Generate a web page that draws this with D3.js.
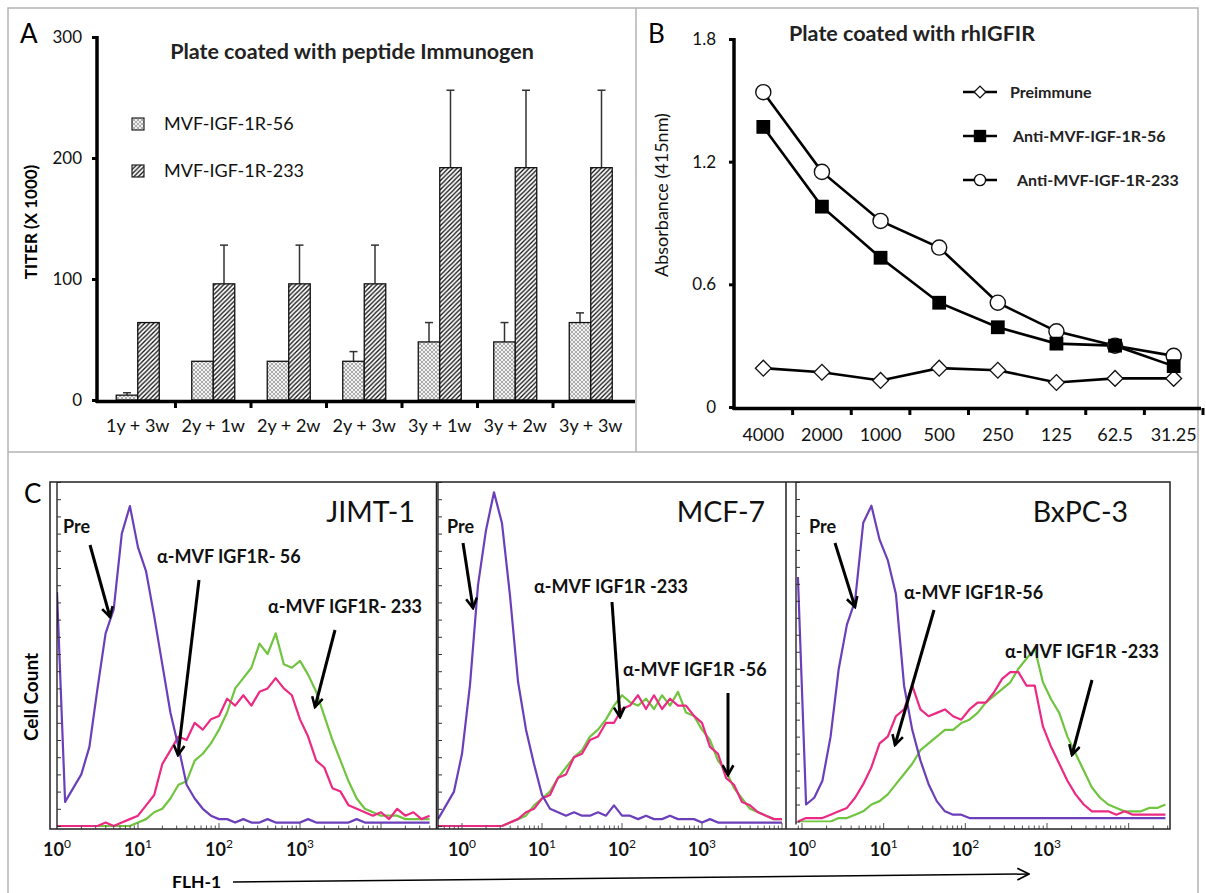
<!DOCTYPE html>
<html>
<head>
<meta charset="utf-8">
<script src="https://cdn.jsdelivr.net/npm/d3@7/dist/d3.min.js"></script>
<style>
  body { margin: 0; background: #fff; }
  svg { display: block; font-family: Lato, "Open Sans", sans-serif; }
</style>
</head>
<body>
<svg id="fig" width="1206" height="893"></svg>
<script>
// ---------- panel A: titers (x 1000) ----------
const regimens = ["1y + 3w", "2y + 1w", "2y + 2w", "2y + 3w", "3y + 1w", "3y + 2w", "3y + 3w"]
const titer56 = [4, 32, 32, 32, 48, 48, 64]
const titer56Upper = [6, null, null, 40, 64, 64, 72]
const titer233 = [64, 96, 96, 96, 192, 192, 192]
const titer233Upper = [null, 128, 128, 128, 256, 256, 256]
const titerTicks = [0, 100, 200, 300]

// ---------- panel B: absorbance ----------
const dilutions = ["4000", "2000", "1000", "500", "250", "125", "62.5", "31.25"]
const preimmune = [0.19, 0.17, 0.13, 0.19, 0.18, 0.12, 0.14, 0.14]
const anti56 = [1.37, 0.98, 0.73, 0.51, 0.39, 0.31, 0.30, 0.20]
const anti233 = [1.54, 1.15, 0.91, 0.78, 0.51, 0.37, 0.30, 0.25]
const absTicks = [0, 0.6, 1.2, 1.8]

// ---------- panel C: flow histograms (% of max, one value per 0.1 decade) ----------
const logStep = 0.1
const decades = [0, 1, 2, 3]

const jimtStart = 0
const jimtPre = [68, 7, 11, 15, 23, 40, 56, 63, 85, 93, 81, 74, 61, 47, 33, 23, 12, 8, 5, 3,
  2, 2, 1, 2, 1, 1, 2, 1, 1, 1, 1, 2, 1, 1, 1, 1, 1, 2, 1, 1, 1, 1, 1, 1, 1, 1, 1]
const jimt56 = [0, 0, 0, 0, 0, 0, 1, 0, 1, 2, 3, 6, 9, 18, 22, 26, 25, 30, 28, 31,
  32, 37, 35, 38, 35, 39, 40, 43, 40, 38, 31, 26, 19, 17, 11, 10, 6, 5, 4, 3, 4, 2, 5, 3, 4, 2, 3]
const jimt233 = [0, 0, 0, 0, 0, 0, 0, 0, 0, 0, 1, 2, 4, 5, 8, 12, 13, 19, 21, 24,
  28, 33, 40, 43, 46, 53, 50, 56, 47, 46, 48, 44, 39, 32, 25, 19, 13, 8, 5, 4, 3, 3, 3, 2, 2, 2, 2]

const mcfStart = -0.3
const mcfPre = [2, 6, 10, 21, 41, 70, 86, 97, 88, 67, 42, 28, 18, 9, 5, 4, 3, 4, 3, 3,
  4, 3, 6, 3, 3, 2, 3, 2, 2, 3, 2, 2, 2, 1, 2, 1, 1, 1, 1, 1, 1, 1, 1, 1]
const mcf56 = [0, 0, 0, 0, 0, 0, 0, 0, 0, 1, 2, 4, 5, 8, 9, 14, 15, 20, 21, 25,
  26, 30, 30, 34, 35, 38, 34, 38, 34, 37, 35, 35, 32, 30, 23, 21, 14, 12, 7, 6, 4, 3, 2, 2]
const mcf233 = [0, 0, 0, 0, 0, 0, 0, 0, 0, 1, 2, 3, 6, 8, 10, 14, 17, 20, 22, 26,
  28, 31, 35, 38, 36, 35, 37, 34, 38, 35, 39, 33, 32, 28, 25, 19, 16, 11, 8, 5, 4, 3, 2, 2]

const bxpcStart = -0.05
const bxpcPre = [72, 5, 7, 12, 25, 45, 58, 65, 88, 93, 83, 77, 67, 40, 27, 18, 11, 6, 3, 2,
  2, 1, 1, 1, 1, 1, 1, 1, 1, 1, 1, 1, 1, 1, 1, 1, 1, 1, 1, 1, 1, 1, 1, 1, 1, 1]
const bxpc56 = [0, 1, 1, 1, 2, 3, 4, 7, 11, 16, 23, 25, 31, 33, 40, 33, 31, 32, 33, 31,
  30, 33, 35, 35, 38, 42, 44, 44, 40, 40, 28, 22, 17, 12, 8, 5, 3, 3, 3, 2, 3, 2, 2, 2, 2, 2]
const bxpc233 = [0, 0, 0, 0, 0, 1, 1, 2, 3, 5, 6, 8, 11, 14, 17, 21, 23, 25, 27, 27,
  29, 30, 32, 35, 37, 39, 41, 45, 48, 51, 41, 36, 32, 25, 20, 15, 10, 7, 5, 4, 3, 3, 3, 4, 4, 5]

const purple = "#6b3fba", pink = "#ec2a84", green = "#71c440"

const svg = d3.select("#fig")
const defs = svg.append("defs")

// bar fill patterns
const p56 = defs.append("pattern").attr("id", "pat56")
  .attr("width", 4).attr("height", 4).attr("patternUnits", "userSpaceOnUse")
p56.append("rect").attr("width", 4).attr("height", 4).attr("fill", "#f2f2f2")
p56.append("path").attr("d", "M0,0 L4,4 M4,0 L0,4")
  .attr("stroke", "#999").attr("stroke-width", 0.8)

const p233 = defs.append("pattern").attr("id", "pat233")
  .attr("width", 4.5).attr("height", 4.5).attr("patternUnits", "userSpaceOnUse")
p233.append("rect").attr("width", 4.5).attr("height", 4.5).attr("fill", "#fff")
p233.append("path").attr("d", "M-1,1 L1,-1 M0,4.5 L4.5,0 M3.5,5.5 L5.5,3.5")
  .attr("stroke", "#111").attr("stroke-width", 1.3)

defs.append("marker").attr("id", "head")
  .attr("viewBox", "0 0 12 12").attr("refX", 10).attr("refY", 6)
  .attr("markerWidth", 13).attr("markerHeight", 13)
  .attr("markerUnits", "userSpaceOnUse").attr("orient", "auto")
  .append("path").attr("d", "M1,1 L10,6 L1,11")
  .attr("fill", "none").attr("stroke", "#000").attr("stroke-width", 2.4)

defs.append("marker").attr("id", "headThin")
  .attr("viewBox", "0 0 12 12").attr("refX", 11).attr("refY", 6)
  .attr("markerWidth", 14).attr("markerHeight", 14)
  .attr("markerUnits", "userSpaceOnUse").attr("orient", "auto")
  .append("path").attr("d", "M1,1 L11,6 L1,11")
  .attr("fill", "none").attr("stroke", "#000").attr("stroke-width", 1.4)

// panel borders
svg.append("path")
  .attr("d", "M8,893 V8 H1198 V893 M8,452 H1198 M636,8 V452")
  .attr("fill", "none").attr("stroke", "#b4b4b4").attr("stroke-width", 1.5)

function styleAxis(g, size) {
  g.attr("font-family", null).attr("font-size", size).attr("fill", "#000")
  g.selectAll(".tick text").attr("fill", "#111")
}

// ================= PANEL A =================
defs.append("clipPath").attr("id", "clipA")
  .append("rect").attr("x", 9).attr("y", 9).attr("width", 626).attr("height", 442)
const gA = svg.append("g").attr("clip-path", "url(#clipA)")

const xA = d3.scaleBand().domain(regimens).range([100, 628.5])
const yA = d3.scaleLinear().domain([0, 300]).range([400, 37])
const barW = 21.5

const seriesA = [
  { values: titer56, upper: titer56Upper, fill: "url(#pat56)", offset: -barW },
  { values: titer233, upper: titer233Upper, fill: "url(#pat233)", offset: 0 }
]

seriesA.forEach(s => {
  const rows = regimens.map((c, i) => ({ c, v: s.values[i], u: s.upper[i] }))
  const cx = d => xA(d.c) + xA.bandwidth() / 2 + s.offset + barW / 2
  const errs = rows.filter(d => d.u != null)
  gA.append("g").selectAll("line").data(errs).join("line")
    .attr("x1", cx).attr("x2", cx)
    .attr("y1", d => yA(d.v)).attr("y2", d => yA(d.u))
    .attr("stroke", "#333").attr("stroke-width", 1.5)
  gA.append("g").selectAll("line").data(errs).join("line")
    .attr("x1", d => cx(d) - 4).attr("x2", d => cx(d) + 4)
    .attr("y1", d => yA(d.u)).attr("y2", d => yA(d.u))
    .attr("stroke", "#333").attr("stroke-width", 1.5)
  gA.append("g").selectAll("rect").data(rows).join("rect")
    .attr("x", d => xA(d.c) + xA.bandwidth() / 2 + s.offset)
    .attr("y", d => yA(d.v))
    .attr("width", barW)
    .attr("height", d => yA(0) - yA(d.v))
    .attr("fill", s.fill)
    .attr("stroke", "#111").attr("stroke-width", 1.3)
})

gA.append("g").attr("transform", "translate(97,0)")
  .call(d3.axisLeft(yA).tickValues(titerTicks).tickSize(5).tickSizeOuter(0).tickPadding(10))
  .call(g => g.select(".domain").attr("stroke-width", 3.5).attr("d", "M0,403V36"))
  .call(g => g.selectAll(".tick line").attr("stroke-width", 3))
  .call(g => styleAxis(g, 17))

gA.append("line").attr("x1", 96).attr("x2", 640).attr("y1", 401.5).attr("y2", 401.5)
  .attr("stroke", "#000").attr("stroke-width", 3.5)
gA.append("g").selectAll("line").data(regimens.slice(1)).join("line")
  .attr("x1", d => xA(d)).attr("x2", d => xA(d))
  .attr("y1", 401).attr("y2", 408)
  .attr("stroke", "#000").attr("stroke-width", 3)
gA.append("g").selectAll("text").data(regimens).join("text")
  .attr("x", d => xA(d) + xA.bandwidth() / 2).attr("y", 432)
  .attr("text-anchor", "middle").attr("font-size", 18).attr("fill", "#111")
  .text(d => d)

gA.append("text").attr("x", 20).attr("y", 43).attr("font-size", 26).text("A")
gA.append("text").attr("x", 352).attr("y", 59).attr("text-anchor", "middle")
  .attr("font-size", 21.5).attr("font-weight", "bold").attr("fill", "#222")
  .text("Plate coated with peptide Immunogen")
gA.append("text").attr("transform", "translate(37,222) rotate(-90)")
  .attr("text-anchor", "middle").attr("font-size", 17).attr("font-weight", "bold")
  .text("TITER (X 1000)")

const legendA = [
  { label: "MVF-IGF-1R-56", fill: "url(#pat56)" },
  { label: "MVF-IGF-1R-233", fill: "url(#pat233)" }
]
const lgA = gA.append("g").selectAll("g").data(legendA).join("g")
  .attr("transform", (d, i) => `translate(132,${118 + i * 47})`)
lgA.append("rect").attr("width", 12).attr("height", 12)
  .attr("fill", d => d.fill).attr("stroke", "#222").attr("stroke-width", 1.2)
lgA.append("text").attr("x", 32).attr("y", 11.5).attr("font-size", 18).attr("fill", "#111")
  .text(d => d.label)

// ================= PANEL B =================
const gB = svg.append("g")
const xB = d3.scaleBand().domain(dilutions).range([734, 1203])
const yB = d3.scaleLinear().domain([0, 1.8]).range([407, 39])
const cxB = d => xB(d) + xB.bandwidth() / 2

gB.append("g").attr("transform", "translate(734,0)")
  .call(d3.axisLeft(yB).tickValues(absTicks).tickFormat(d => d === 0 ? "0" : d3.format(".1f")(d))
    .tickSize(5).tickSizeOuter(0).tickPadding(13))
  .call(g => g.select(".domain").attr("stroke-width", 3.5).attr("d", "M0,410V38"))
  .call(g => g.selectAll(".tick line").attr("stroke-width", 3))
  .call(g => styleAxis(g, 17))

gB.append("line").attr("x1", 733).attr("x2", 1201).attr("y1", 408.5).attr("y2", 408.5)
  .attr("stroke", "#000").attr("stroke-width", 3.5)
gB.append("g").selectAll("line").data(dilutions).join("line")
  .attr("x1", d => xB(d) + xB.bandwidth()).attr("x2", d => xB(d) + xB.bandwidth())
  .attr("y1", 408).attr("y2", 415)
  .attr("stroke", "#000").attr("stroke-width", 3)
gB.append("g").selectAll("text").data(dilutions).join("text")
  .attr("x", cxB).attr("y", 441).attr("text-anchor", "middle")
  .attr("font-size", 18).attr("fill", "#111").text(d => d)

const seriesB = [
  { label: "Preimmune", values: preimmune, shape: "diamond", dx: 30 },
  { label: "Anti-MVF-IGF-1R-56", values: anti56, shape: "square", dx: 33 },
  { label: "Anti-MVF-IGF-1R-233", values: anti233, shape: "circle", dx: 37 }
]
const lineB = d3.line().x((d, i) => cxB(dilutions[i])).y(d => yB(d))

function drawMarker(sel, shape, scale) {
  if (shape === "diamond") {
    sel.append("path").attr("d", d3.symbol(d3.symbolSquare, 125 * scale)())
      .attr("transform", "rotate(45)")
      .attr("fill", "#fff").attr("stroke", "#111").attr("stroke-width", 1.3)
  } else if (shape === "square") {
    sel.append("path").attr("d", d3.symbol(d3.symbolSquare, 190 * scale)())
      .attr("fill", "#000")
  } else {
    sel.append("path").attr("d", d3.symbol(d3.symbolCircle, 180 * scale)())
      .attr("fill", "#fff").attr("stroke", "#111").attr("stroke-width", 1.4)
  }
}

seriesB.forEach(s => {
  gB.append("path").attr("d", lineB(s.values))
    .attr("fill", "none").attr("stroke", "#000").attr("stroke-width", 2.6)
})
// square series drawn last so it sits over the circle where they meet
;[seriesB[0], seriesB[2], seriesB[1]].forEach(s => {
  gB.append("g").selectAll("g").data(s.values).join("g")
    .attr("transform", (d, i) => `translate(${cxB(dilutions[i])},${yB(d)})`)
    .each(function () { drawMarker(d3.select(this), s.shape, 1) })
})

const lgB = gB.append("g").selectAll("g").data(seriesB).join("g")
  .attr("transform", (d, i) => `translate(980,${92 + i * 44})`)
lgB.append("line").attr("x1", -17).attr("x2", 17)
  .attr("stroke", "#000").attr("stroke-width", 2.6)
lgB.each(function (d) { drawMarker(d3.select(this), d.shape, d.shape === "square" ? 0.8 : 0.55) })
lgB.append("text").attr("x", d => d.dx).attr("y", 6).attr("font-size", 16).attr("font-weight", "bold")
  .attr("fill", "#222").text(d => d.label)

gB.append("text").attr("x", 648).attr("y", 43).attr("font-size", 26).text("B")
gB.append("text").attr("x", 912).attr("y", 41).attr("text-anchor", "middle")
  .attr("font-size", 21.5).attr("font-weight", "bold").attr("fill", "#222")
  .text("Plate coated with rhIGFIR")
gB.append("text").attr("transform", "translate(668,195) rotate(-90)")
  .attr("text-anchor", "middle").attr("font-size", 18).attr("fill", "#111")
  .text("Absorbance (415nm)")

// ================= PANEL C =================
const gC = svg.append("g")
const histPanels = [
  { name: "JIMT-1", start: jimtStart, pre: jimtPre, a56: jimt56, a233: jimt233 },
  { name: "MCF-7", start: mcfStart, pre: mcfPre, a56: mcf56, a233: mcf233 },
  { name: "BxPC-3", start: bxpcStart, pre: bxpcPre, a56: bxpc56, a233: bxpc233 }
]
const histLayout = [
  { left: 57, right: 436, x0: 57, x3: 300, base: 826, nameX: 415 },
  { left: 438, right: 786, x0: 462, x3: 702, base: 826, nameX: 765 },
  { left: 796, right: 1170, x0: 802, x3: 1047, base: 821.5, nameX: 1128 }
]
const histTop = 482

// annotations (pixel layout)
const notes = [
  [{ t: "Pre", x: 63, y: 533, a: [90, 545, 110, 617] },
   { t: "α-MVF IGF1R- 56", x: 157, y: 563, a: [199, 580, 178, 755] },
   { t: "α-MVF IGF1R- 233", x: 268, y: 613, a: [335, 630, 315, 707] }],
  [{ t: "Pre", x: 447, y: 533, a: [463, 543, 473, 608] },
   { t: "α-MVF IGF1R -233", x: 534, y: 593, a: [612, 602, 620, 717] },
   { t: "α-MVF IGF1R -56", x: 623, y: 676, a: [728, 693, 728, 775] }],
  [{ t: "Pre", x: 809, y: 533, a: [835, 543, 855, 607] },
   { t: "α-MVF IGF1R-56", x: 904, y: 599, a: [934, 610, 895, 745] },
   { t: "α-MVF IGF1R -233", x: 1005, y: 658, a: [1092, 680, 1072, 755] }]
]

histPanels.forEach((p, k) => {
  const L = histLayout[k]
  const x = d3.scaleLinear().domain([0, 3]).range([L.x0, L.x3])
  const y = d3.scaleLinear().domain([0, 100]).range([L.base, histTop])
  const line = d3.line().x((d, i) => x(p.start + i * logStep)).y(d => y(d))

  defs.append("clipPath").attr("id", "clipC" + k)
    .append("rect").attr("x", L.left).attr("y", histTop).attr("width", L.right - L.left)
    .attr("height", L.base - histTop + 1)
  const g = gC.append("g")
  const plot = g.append("g").attr("clip-path", `url(#clipC${k})`)
  ;[[p.a233, green], [p.a56, pink], [p.pre, purple]].forEach(([vals, col]) => {
    plot.append("path").attr("d", line(vals))
      .attr("fill", "none").attr("stroke", col).attr("stroke-width", 2.2)
      .attr("stroke-linejoin", "round")
  })

  // inner count axis (unlabelled ticks)
  g.append("g").attr("transform", `translate(${L.left},0)`)
    .call(d3.axisRight(y).ticks(20).tickSize(4).tickFormat(""))
    .call(s => s.select(".domain").attr("stroke-width", 1.2).attr("d", `M0,${L.base + 3}V${histTop}`))
    .call(s => s.selectAll(".tick line").attr("stroke", "#333").attr("stroke-width", 1))

  // log minor ticks on the fluorescence axis
  const minor = []
  for (let d = -1; d <= 4; d++) for (let m = 1; m <= 9; m++) {
    const v = d + Math.log10(m)
    if (x(v) > L.left + 2 && x(v) < L.right - 1) minor.push({ v, major: m === 1 })
  }
  g.append("g").selectAll("line").data(minor).join("line")
    .attr("x1", d => x(d.v)).attr("x2", d => x(d.v))
    .attr("y1", 829).attr("y2", d => d.major ? 823 : 825.5)
    .attr("stroke", "#555").attr("stroke-width", 1)

  // decade labels
  const lab = g.append("g").selectAll("text").data(decades).join("text")
    .attr("x", d => x(d)).attr("y", 856).attr("text-anchor", "middle")
    .attr("font-size", 18).attr("font-weight", "bold").attr("fill", "#111")
  lab.append("tspan").text("10")
  lab.append("tspan").attr("dy", -8).attr("font-size", 12).attr("font-weight", "normal").text(d => d)

  g.append("text").attr("x", L.nameX).attr("y", 522).attr("text-anchor", "end")
    .attr("font-size", 28.5).attr("fill", "#111").text(p.name)

  notes[k].forEach(n => {
    g.append("text").attr("x", n.x).attr("y", n.y).attr("font-size", 18)
      .attr("font-weight", "bold").attr("fill", "#111").text(n.t)
    g.append("line").attr("x1", n.a[0]).attr("y1", n.a[1]).attr("x2", n.a[2]).attr("y2", n.a[3])
      .attr("stroke", "#000").attr("stroke-width", 3).attr("marker-end", "url(#head)")
  })
})

// frames
gC.append("rect").attr("x", 50).attr("y", histTop).attr("width", 1120).attr("height", 347)
  .attr("fill", "none").attr("stroke", "#222").attr("stroke-width", 1.5)
gC.append("path").attr("d", "M436.5,482V829 M786,482V829")
  .attr("stroke", "#222").attr("stroke-width", 1.5)

gC.append("text").attr("x", 24).attr("y", 503).attr("font-size", 26).text("C")
gC.append("text").attr("transform", "translate(38,697) rotate(-90)")
  .attr("text-anchor", "middle").attr("font-size", 19).attr("font-weight", "bold")
  .text("Cell Count")
gC.append("text").attr("x", 172).attr("y", 888).attr("font-size", 17.5)
  .attr("font-weight", "bold").text("FLH-1")
gC.append("line").attr("x1", 233).attr("y1", 882).attr("x2", 1029).attr("y2", 874)
  .attr("stroke", "#000").attr("stroke-width", 1.5).attr("marker-end", "url(#headThin)")
</script>
</body>
</html>
